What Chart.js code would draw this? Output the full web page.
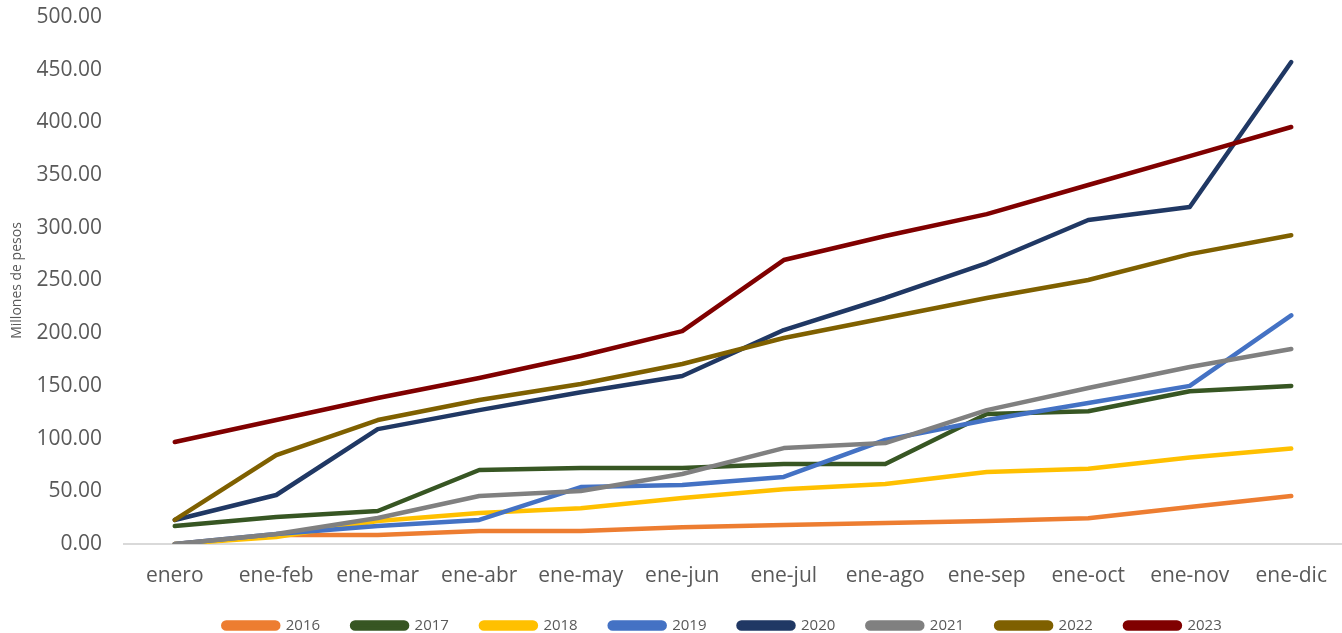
<!DOCTYPE html>
<html>
<head>
<meta charset="utf-8">
<script src="https://cdn.jsdelivr.net/npm/chart.js@4/dist/chart.umd.min.js"></script>
<style>
  html, body { margin: 0; padding: 0; background: #ffffff; overflow: hidden; }
  #wrap { width: 1342px; height: 633px; position: relative; }
</style>
</head>
<body>
<div id="wrap"><canvas id="c"></canvas></div>
<script>
const categories = ['enero','ene-feb','ene-mar','ene-abr','ene-may','ene-jun','ene-jul','ene-ago','ene-sep','ene-oct','ene-nov','ene-dic'];
const seriesNames = ['2016','2017','2018','2019','2020','2021','2022','2023'];
const s2016 = [0, 8.5, 8.5, 12.3, 12.3, 16, 18, 20, 21.8, 24.5, 35, 45.5];
const s2017 = [17, 25.6, 31.3, 70.2, 72, 72, 76, 76, 123.3, 126, 145, 150];
const s2018 = [0, 6.6, 21.8, 29.4, 34, 43.6, 52, 57, 68.3, 71.5, 82, 90.5];
const s2019 = [0, 9.5, 17, 22.8, 54, 56, 63.6, 98.7, 117.6, 133.8, 150, 217];
const s2020 = [22.8, 46.5, 109, 127, 144, 159.4, 203, 233.4, 266.6, 307.4, 319.7, 457.3];
const s2021 = [0, 9.5, 24.7, 45.5, 50.3, 66.4, 91, 95.8, 127, 148, 168, 185];
const s2022 = [22.8, 84.4, 117.6, 136.6, 151.8, 170.8, 195.4, 214.4, 233.4, 250.5, 275, 293];
const s2023 = [96.8, 117.6, 138.5, 157.5, 178.4, 202, 269.4, 292.2, 313, 340.6, 368, 395.6];
const yTickLabels = ['0.00','50.00','100.00','150.00','200.00','250.00','300.00','350.00','400.00','450.00','500.00'];
const yTitle = 'Millones de pesos';

const allSeries = [s2016, s2017, s2018, s2019, s2020, s2021, s2022, s2023];
const colors = ['#ED7D31','#375623','#FFC000','#4472C4','#203864','#808080','#7F6000','#800000'];

const datasets = allSeries.map((d, i) => ({
  label: seriesNames[i],
  data: d,
  borderColor: colors[i],
  backgroundColor: colors[i],
  borderWidth: 4.5,
  borderCapStyle: 'round',
  borderJoinStyle: 'round',
  pointRadius: 0,
  pointHoverRadius: 0,
  tension: 0,
  fill: false,
  order: allSeries.length - i
}));

const textColor = '#595959';
const fam = '"Open Sans", "Liberation Sans", sans-serif';

const legendShift = {
  id: 'legendShift',
  afterLayout(chart) {
    const lg = chart.legend;
    if (lg) { lg.left += 49; lg.right += 49; lg.top -= 2; lg.bottom -= 2; }
  }
};

new Chart(document.getElementById('c'), {
  type: 'line',
  data: { labels: categories, datasets: datasets },
  plugins: [legendShift],
  options: {
    responsive: true,
    maintainAspectRatio: false,
    animation: false,
    layout: { padding: { left: 5, right: 0, top: 17, bottom: -10 } },
    plugins: {
      tooltip: { enabled: false },
      legend: {
        position: 'bottom',
        maxHeight: 55,
        labels: {
          boxWidth: 55,
          boxHeight: 6,
          useBorderRadius: true,
          borderRadius: 3,
          padding: 32,
          color: textColor,
          font: { family: fam, size: 15 },
          sort: (a, b) => a.datasetIndex - b.datasetIndex
        }
      }
    },
    scales: {
      x: {
        offset: true,
        afterFit: (s) => { s.height = 44; s.paddingLeft = 0; s.paddingRight = 0; },
        grid: { display: false, drawTicks: false },
        border: { display: true, color: '#D9D9D9', width: 2 },
        ticks: { color: textColor, font: { family: fam, size: 21 }, padding: 19, maxRotation: 0, autoSkip: false }
      },
      y: {
        min: 0,
        max: 500,
        afterFit: (s) => { s.width = 119; s.paddingTop = 0; s.paddingBottom = 0; },
        grid: { display: false, drawTicks: false },
        border: { display: false },
        ticks: {
          stepSize: 50,
          color: textColor,
          font: { family: fam, size: 21 },
          padding: 22,
          callback: (v) => yTickLabels[Math.round(v / 50)]
        },
        title: {
          display: true,
          text: yTitle,
          color: textColor,
          font: { family: fam, size: 14 },
          padding: { top: 4, bottom: 4 }
        }
      }
    }
  }
});
</script>
</body>
</html>
